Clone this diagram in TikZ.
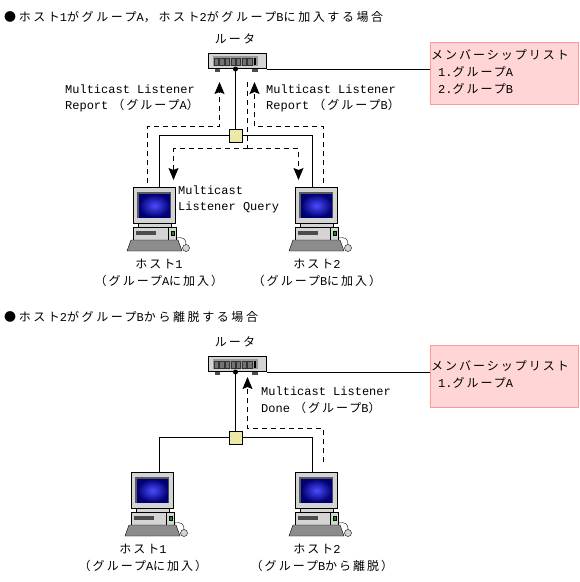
\documentclass[tikz,border=0pt]{standalone}
\usepackage{fontspec}
\setmainfont{Liberation Mono}
\newfontfamily\jpfont[LetterSpace=16.7]{Noto Sans CJK JP}
\newfontfamily\jptitle[LetterSpace=21.5]{Noto Sans CJK JP}
\usepackage{xcolor}
\definecolor{listfill}{HTML}{FFD5D5}
\definecolor{listline}{HTML}{FF9999}
\definecolor{hubfill}{HTML}{EBE8A8}
\definecolor{bodygray}{HTML}{D4D4D4}
\usetikzlibrary{arrows.meta,calc,positioning}
\newcommand{\jp}[1]{{\jpfont #1}}
\newcommand{\jt}[1]{{\jptitle #1}}
% Host computer, (#2,#3) is the top left corner of the monitor
\newcommand{\hostpc}[3]{
  \begin{scope}[shift={(#2,#3)}]
    \node[monitorbox] (#1) at (21,18) {};
    \fill[black!65] (4,5) rectangle (38,31);
    \shade[inner color=blue!70!white, outer color=blue!45!black] (6,7) rectangle (37,30);
    \draw[fill=bodygray] (5,36) rectangle (38,41);
    \draw[fill=bodygray] (0,40) rectangle (43,53);
    \fill[black!70] (3,44) rectangle (23,48);
    \draw[fill=green!60!black] (38,44) rectangle (41,48);
    \draw (35,40) -- (35,53);
    \draw[fill=black!45] (-6,64) -- (-2,53) -- (45,53) -- (49,64) -- cycle;
    \draw (43,51) .. controls (50,50) and (53,51) .. (53,58);
    \draw[fill=bodygray] (53,61) circle (3.5);
  \end{scope}
}
% Router box, the display panel is a row of small cells
\newcommand{\routerpanel}[1]{
  \fill[black!40] ($(#1.center)+(-24,-5)$) rectangle ($(#1.center)+(21,5)$);
  \foreach \i in {0,...,6}
    \draw[black!80, fill=black!55] ($(#1.center)+(-23+5.6*\i,-3)$) rectangle ++(4.2,7);
  \fill[black] ($(#1.center)+(17,-3)$) rectangle ++(2,7);
  \fill[black!70] ($(#1.south)+(-22,0)$) rectangle ++(5,2.5);
  \fill[black!70] ($(#1.south)+(15,0)$) rectangle ++(6,2.5);
  \fill[black] ($(#1.south)+(-1.5,0)$) circle (2.5);
}

\begin{document}
\begin{tikzpicture}[x=1pt, y=-1pt,
  every node/.style={font=\fontsize{12}{14}\selectfont},
  routerbox/.style={rectangle, draw=black, fill=bodygray, line width=1pt, minimum width=58pt, minimum height=15pt, inner sep=0pt},
  hubbox/.style={rectangle, draw=black, fill=hubfill, line width=1pt, minimum width=13pt, minimum height=13pt, inner sep=0pt},
  listbox/.style={rectangle, draw=listline, fill=listfill, line width=1pt, minimum width=148pt, minimum height=62pt, inner sep=0pt},
  monitorbox/.style={rectangle, draw=black, fill=bodygray, line width=1pt, minimum width=42pt, minimum height=36pt, inner sep=0pt},
  leftlabel/.style={anchor=west, inner sep=0pt},
  midlabel/.style={anchor=center, inner sep=0pt},
  wire/.style={line width=1pt},
  dashwire/.style={line width=1pt, dash pattern=on 5pt off 4pt},
  arrow/.style={dashwire, -{Stealth[length=12pt, width=10pt, inset=2pt, fill=black]}}
]
\useasboundingbox (0,0) rectangle (580,582);

% Upper case
\node[leftlabel] (title1) at (4,17) {\jt{●ホスト}1\jt{がグループ}A\jt{，ホスト}2\jt{がグループ}B\jt{に加入する場合}};
\node[midlabel] (router1label) at (235,39) {\jp{ルータ}};
\node[routerbox] (router1) at (237,61) {};
\routerpanel{router1}
\node[hubbox] (hub1) at (235.5,135.5) {};
\node[listbox] (list1) at (504,73) {};
\node[leftlabel] (list1a) at (431,55) {\jp{メンバーシップリスト}};
\node[leftlabel] (list1b) at (438,72) {1.\jp{グループ}A};
\node[leftlabel] (list1c) at (438,89) {2.\jp{グループ}B};

\hostpc{host1}{133}{187}
\hostpc{host2}{295}{187}
\coordinate (host1top) at (159.5,187);
\coordinate (host2top) at (312.5,187);

\node[midlabel] (host1name) at (159,264) {\jp{ホスト}1};
\node[midlabel] (host1note) at (159,281) {\jp{（グループ}A\jp{に加入）}};
\node[midlabel] (host2name) at (317,264) {\jp{ホスト}2};
\node[midlabel] (host2note) at (317,281) {\jp{（グループ}B\jp{に加入）}};

\node[leftlabel] (report1a) at (65,89) {Multicast Listener};
\node[leftlabel] (report1b) at (65,106) {Report\hspace{4pt}\jp{（グループ}A\jp{）}};
\node[leftlabel] (report2a) at (266,89) {Multicast Listener};
\node[leftlabel] (report2b) at (266,106) {Report\hspace{4pt}\jp{（グループ}B\jp{）}};
\node[leftlabel] (query1a) at (178,190) {Multicast};
\node[leftlabel] (query1b) at (178,207) {Listener Query};

% Connections
\draw[wire] (hub1.north |- router1.south) -- (hub1.north);
\draw[wire] (router1.south east) -- (router1.south east -| list1.west);
\draw[wire] (hub1.west) -| (host1top);
\draw[wire] (hub1.east) -| (host2top);

% Messages
\coordinate (report1from) at (147.5,183);
\coordinate (report1to) at (219.5,82);
\coordinate (report2from) at (323.5,183);
\coordinate (report2to) at (254.5,82);
\coordinate (queryfrom) at (247.5,82);
\coordinate (querybend) at (247.5,148.5);
\coordinate (query1to) at (173.5,180);
\coordinate (query2to) at (298.5,180);
\draw[arrow] (report1from) |- (219.5,126.5) -- (report1to);
\draw[arrow] (report2from) |- (254.5,126.5) -- (report2to);
\draw[dashwire] (queryfrom) -- (querybend);
\draw[arrow] (querybend) -| (query1to);
\draw[arrow] (querybend) -| (query2to);

% Lower case
\node[leftlabel] (title2) at (4,317) {\jt{●ホスト}2\jt{がグループ}B\jt{から離脱する場合}};
\node[midlabel] (router2label) at (235,342) {\jp{ルータ}};
\node[routerbox] (router2) at (237,364) {};
\routerpanel{router2}
\node[hubbox] (hub2) at (235.5,437.5) {};
\node[listbox] (list2) at (504,376) {};
\node[leftlabel] (list2a) at (431,366) {\jp{メンバーシップリスト}};
\node[leftlabel] (list2b) at (438,383) {1.\jp{グループ}A};

\hostpc{host3}{131}{472}
\hostpc{host4}{295}{472}
\coordinate (host3top) at (159.5,472);
\coordinate (host4top) at (312.5,472);

\node[midlabel] (host3name) at (143,549) {\jp{ホスト}1};
\node[midlabel] (host3note) at (143,566) {\jp{（グループ}A\jp{に加入）}};
\node[midlabel] (host4name) at (317,549) {\jp{ホスト}2};
\node[midlabel] (host4note) at (322,566) {\jp{（グループ}B\jp{から離脱）}};

\node[leftlabel] (done1a) at (261,391) {Multicast Listener};
\node[leftlabel] (done1b) at (261,408) {Done\hspace{4pt}\jp{（グループ}B\jp{）}};

\draw[wire] (hub2.north |- router2.south) -- (hub2.north);
\draw[wire] (router2.south east) -- (router2.south east -| list2.west);
\draw[wire] (hub2.west) -| (host3top);
\draw[wire] (hub2.east) -| (host4top);

\coordinate (donefrom) at (323.5,462);
\coordinate (doneto) at (247.5,377);
\draw[arrow] (donefrom) |- (247.5,428.5) -- (doneto);

\end{tikzpicture}
\end{document}
